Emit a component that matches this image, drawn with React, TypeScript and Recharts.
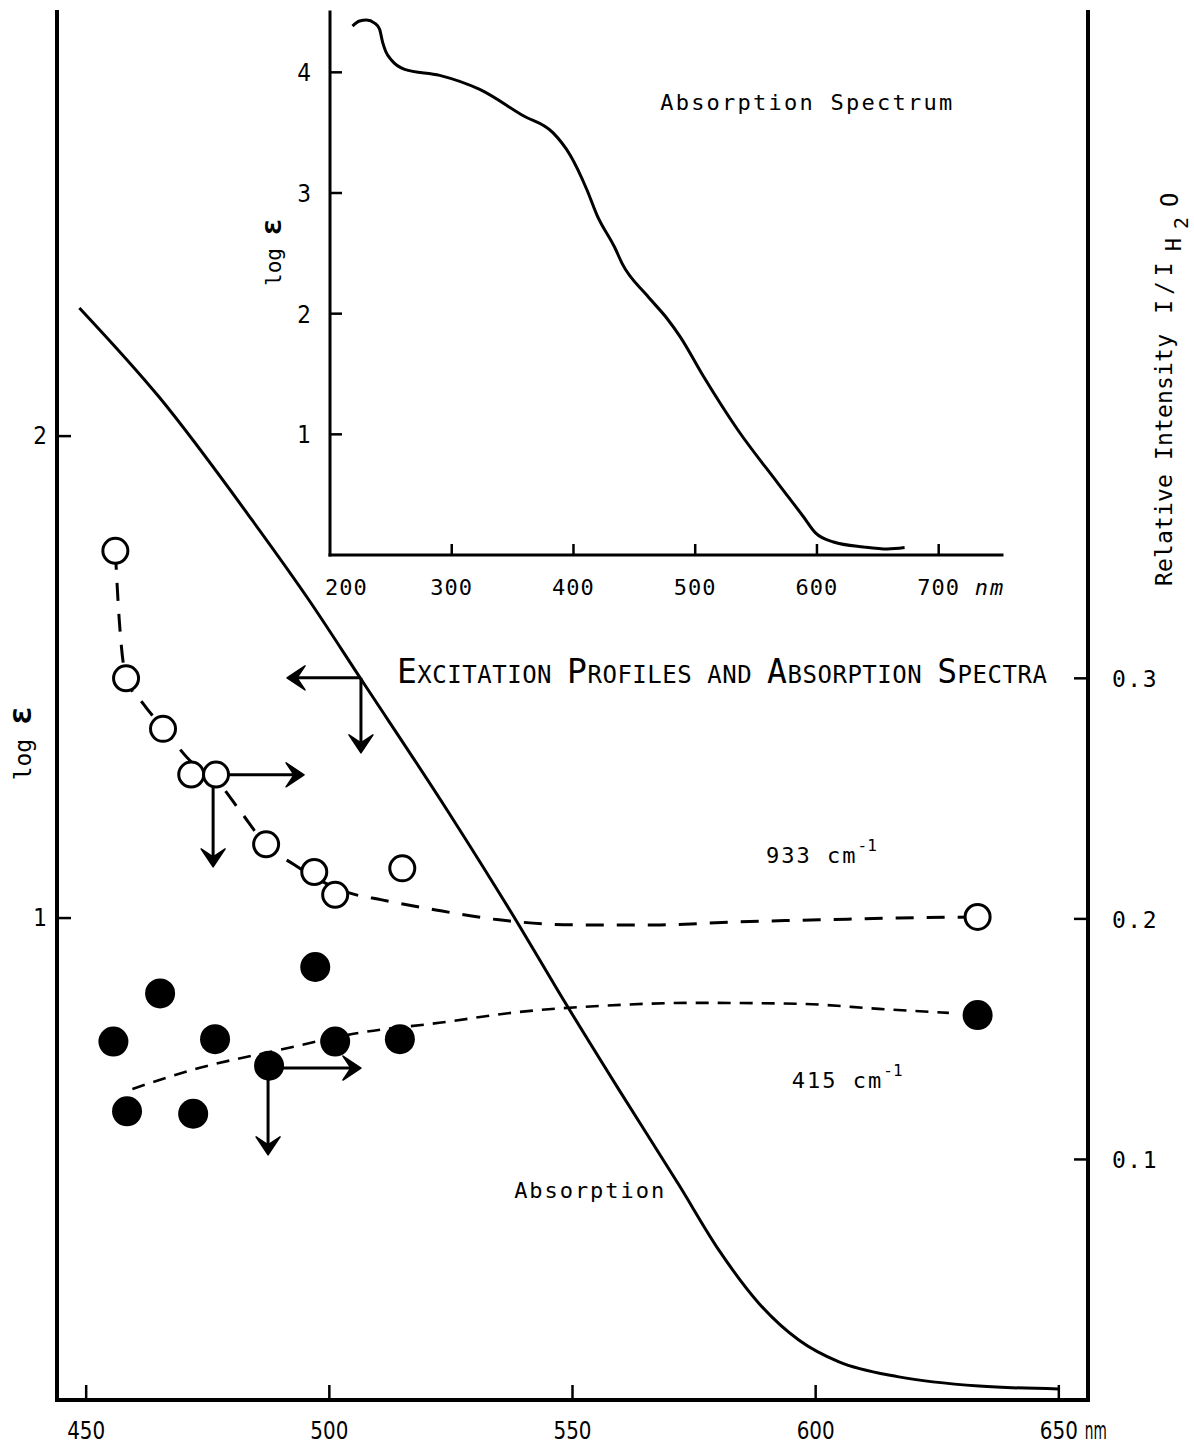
import React from 'react';
import { ComposedChart, Line, Scatter, XAxis, YAxis } from 'recharts';

const MONO = "'DejaVu Sans Mono', 'Liberation Mono', monospace";
const NARROW = "'Liberation Sans Narrow', 'DejaVu Sans Condensed', 'Liberation Sans', sans-serif";

// ---------- main chart ----------
const mainXTicks = [450, 500, 550, 600, 650];
const logETicks = [1, 2];
const intensityTicks = [0.1, 0.2, 0.3];

// absorption (log eps, left axis)
const absorption = [
  { x: 448.6, y: 2.266 }, { x: 465.0, y: 2.081 }, { x: 484.1, y: 1.826 }, { x: 495.8, y: 1.66 },
  { x: 506.5, y: 1.496 }, { x: 524.6, y: 1.218 }, { x: 539.0, y: 0.985 }, { x: 547.2, y: 0.846 },
  { x: 559.6, y: 0.643 }, { x: 571.9, y: 0.446 }, { x: 580.1, y: 0.311 }, { x: 588.3, y: 0.201 },
  { x: 596.6, y: 0.124 }, { x: 604.8, y: 0.079 }, { x: 617.1, y: 0.048 }, { x: 633.6, y: 0.029 },
  { x: 650.0, y: 0.023 },
];

// 933 cm-1 excitation profile (right axis)
const open933 = [
  { x: 456.0, y: 0.353 }, { x: 458.2, y: 0.3 }, { x: 465.8, y: 0.279 }, { x: 471.6, y: 0.26 },
  { x: 476.7, y: 0.26 }, { x: 487.0, y: 0.231 }, { x: 496.9, y: 0.2195 }, { x: 501.2, y: 0.21 },
  { x: 515.0, y: 0.221 }, { x: 633.3, y: 0.2008 },
];
const fit933 = [
  { x: 456.0, y: 0.3526 }, { x: 456.8, y: 0.3243 }, { x: 458.2, y: 0.3002 }, { x: 461.9, y: 0.289 },
  { x: 465.8, y: 0.2794 }, { x: 471.6, y: 0.2653 }, { x: 476.7, y: 0.2578 }, { x: 481.5, y: 0.2453 },
  { x: 487.0, y: 0.2308 }, { x: 492.8, y: 0.2225 }, { x: 497.9, y: 0.2162 }, { x: 504.1, y: 0.2108 },
  { x: 510.8, y: 0.2079 }, { x: 521.9, y: 0.2037 }, { x: 534.9, y: 0.1996 }, { x: 551.3, y: 0.1975 },
  { x: 567.8, y: 0.1975 }, { x: 584.2, y: 0.1988 }, { x: 600.7, y: 0.1996 }, { x: 617.1, y: 0.2004 },
  { x: 633.3, y: 0.2008 },
];

// 415 cm-1 excitation profile (right axis)
const filled415 = [
  { x: 455.6, y: 0.149 }, { x: 458.4, y: 0.12 }, { x: 465.2, y: 0.169 }, { x: 472.0, y: 0.119 },
  { x: 476.5, y: 0.15 }, { x: 487.6, y: 0.139 }, { x: 497.1, y: 0.18 }, { x: 501.2, y: 0.149 },
  { x: 514.5, y: 0.15 }, { x: 633.3, y: 0.16 },
];
const fit415 = [
  { x: 459.5, y: 0.1293 }, { x: 473.2, y: 0.138 }, { x: 489.7, y: 0.1455 }, { x: 506.1, y: 0.1526 },
  { x: 522.6, y: 0.1568 }, { x: 539.0, y: 0.1613 }, { x: 555.4, y: 0.1638 }, { x: 576.0, y: 0.1651 },
  { x: 596.6, y: 0.1647 }, { x: 613.0, y: 0.1626 }, { x: 627.4, y: 0.1609 },
];

// arrows (right axis coordinates)
const arrow1H = [{ x: 506.5, y: 0.3002 }, { x: 492.3, y: 0.3002 }];
const arrow1V = [{ x: 506.5, y: 0.3002 }, { x: 506.5, y: 0.271 }];
const arrow2H = [{ x: 476.7, y: 0.2599 }, { x: 493.8, y: 0.2599 }];
const arrow2V = [{ x: 476.1, y: 0.2599 }, { x: 476.1, y: 0.2236 }];
const arrow3H = [{ x: 487.6, y: 0.138 }, { x: 505.5, y: 0.138 }];
const arrow3V = [{ x: 487.4, y: 0.138 }, { x: 487.4, y: 0.104 }];
const headsLeft = [{ x: 491.3, y: 0.3002 }];
const headsRight = [{ x: 494.8, y: 0.2599 }, { x: 506.5, y: 0.138 }];
const headsDown = [{ x: 506.5, y: 0.269 }, { x: 476.1, y: 0.2216 }, { x: 487.4, y: 0.1019 }];

// ---------- inset chart ----------
const insetXTicks = [200, 300, 400, 500, 600, 700];
const insetYTicks = [1, 2, 3, 4];
const insetSpectrum = [
  { x: 218.5, y: 4.383 }, { x: 224.3, y: 4.425 }, { x: 230.0, y: 4.433 }, { x: 236.6, y: 4.408 },
  { x: 240.7, y: 4.358 }, { x: 243.2, y: 4.25 }, { x: 245.7, y: 4.175 }, { x: 250.6, y: 4.1 },
  { x: 261.3, y: 4.025 }, { x: 290.1, y: 3.975 }, { x: 323.0, y: 3.858 }, { x: 358.4, y: 3.642 },
  { x: 383.1, y: 3.5 }, { x: 397.1, y: 3.317 }, { x: 411.1, y: 3.025 }, { x: 419.3, y: 2.817 },
  { x: 434.2, y: 2.542 }, { x: 439.9, y: 2.417 }, { x: 460.5, y: 2.15 }, { x: 477.0, y: 1.958 },
  { x: 487.7, y: 1.808 }, { x: 506.6, y: 1.483 }, { x: 534.6, y: 1.042 }, { x: 567.5, y: 0.6 },
  { x: 588.9, y: 0.317 }, { x: 598.8, y: 0.183 }, { x: 613.6, y: 0.108 }, { x: 638.3, y: 0.067 },
  { x: 658.0, y: 0.05 }, { x: 672.0, y: 0.062 },
];

// ---------- helpers ----------
const headPath = 'M0 0 L-18 -12 L-10 0 L-18 12 Z';
const arrowHead = (angle: number) => (p: any) => (
  <path
    d={headPath}
    transform={`translate(${p.cx},${p.cy}) rotate(${angle})`}
    fill="#000"
    stroke="#000"
    strokeWidth={1.5}
    strokeLinejoin="round"
  />
);
const openCircle = (p: any) => <circle cx={p.cx} cy={p.cy} r={12.5} fill="#fff" stroke="#000" strokeWidth={3} />;
const filledCircle = (p: any) => <circle cx={p.cx} cy={p.cy} r={15} fill="#000" />;
const textAt = (render: (cx: number, cy: number) => React.ReactNode) => (p: any) => <g>{render(p.cx, p.cy)}</g>;

const BottomTick = (props: any) => {
  const { x, y, payload } = props;
  const v = payload.value;
  return (
    <g>
      <line x1={x} y1={y} x2={x} y2={y - 15} stroke="#000" strokeWidth={2.5} />
      <text x={x} y={y + 39} textAnchor="middle" fontFamily={NARROW} fontSize={24} textLength={38} lengthAdjust="spacingAndGlyphs" fill="#000">
        {String(v)}
      </text>
      {v === 650 && (
        <text x={x + 26} y={y + 39} fontFamily={NARROW} fontSize={24} textLength={22} lengthAdjust="spacingAndGlyphs" fill="#000">
          nm
        </text>
      )}
    </g>
  );
};
const LeftTick = (props: any) => {
  const { x, y, payload } = props;
  return (
    <g>
      <line x1={x} y1={y} x2={x + 14} y2={y} stroke="#000" strokeWidth={2.5} />
      <text x={x - 17} y={y + 8} textAnchor="middle" fontFamily={NARROW} fontSize={24} fill="#000">
        {String(payload.value)}
      </text>
    </g>
  );
};
const RightTick = (props: any) => {
  const { x, y, payload } = props;
  return (
    <g>
      <line x1={x} y1={y} x2={x - 14} y2={y} stroke="#000" strokeWidth={2.5} />
      <text x={x + 47} y={y + 9} textAnchor="middle" fontFamily={MONO} fontSize={23} letterSpacing={1.5} fill="#000">
        {String(payload.value)}
      </text>
    </g>
  );
};
const InsetBottomTick = (props: any) => {
  const { x, y, payload } = props;
  const v = payload.value;
  return (
    <g>
      {v !== 200 && <line x1={x} y1={y} x2={x} y2={y - 11} stroke="#000" strokeWidth={2.5} />}
      <text
        x={v === 200 ? x - 5 : x}
        y={y + 40}
        textAnchor={v === 200 ? 'start' : 'middle'}
        fontFamily={MONO}
        fontSize={22}
        letterSpacing={1}
        fill="#000"
      >
        {String(v)}
      </text>
      {v === 700 && (
        <text x={x + 36} y={y + 40} fontFamily={MONO} fontSize={22} fontStyle="italic" letterSpacing={2} fill="#000">
          nm
        </text>
      )}
    </g>
  );
};
const InsetLeftTick = (props: any) => {
  const { x, y, payload } = props;
  return (
    <g>
      <line x1={x} y1={y} x2={x + 12} y2={y} stroke="#000" strokeWidth={2.5} />
      <text x={x - 26} y={y + 9} textAnchor="middle" fontFamily={NARROW} fontSize={24} fill="#000">
        {String(payload.value)}
      </text>
    </g>
  );
};

const frame = { stroke: '#000', strokeWidth: 4, strokeLinecap: 'square' as const };
const insetFrame = { stroke: '#000', strokeWidth: 3, strokeLinecap: 'square' as const };
const MAIN_X: [number, number] = [444, 656];
const INSET_X: [number, number] = [200, 752];

const leftAxisLabel = () => (
  <text transform="translate(31,743) rotate(-90)" textAnchor="middle" fontFamily={MONO} fill="#000">
    <tspan fontSize={23}>log </tspan>
    <tspan fontSize={32} fontWeight="bold">ε</tspan>
  </text>
);
const rightAxisLabel = () => (
  <text transform="translate(1172,586) rotate(-90)" textAnchor="start" fontFamily={MONO} fontSize={23} fill="#000">
    <tspan textLength={252} lengthAdjust="spacing">Relative Intensity</tspan>
    <tspan dx={20} letterSpacing={5}>I/I</tspan>
    <tspan fontSize={22} dy={9} dx={6}>H</tspan>
    <tspan fontSize={20} dy={7} dx={9}>2</tspan>
    <tspan fontSize={24} dy={-10} dx={10}>O</tspan>
  </text>
);
const insetAxisLabel = () => (
  <text transform="translate(281,252) rotate(-90)" textAnchor="middle" fontFamily={MONO} fill="#000">
    <tspan fontSize={21}>log </tspan>
    <tspan fontSize={29} fontWeight="bold">ε</tspan>
  </text>
);

const titleAnchor = [{ x: 513.9, y: 0.2981 }];
const label933Anchor = [{ x: 589.8, y: 0.2233 }];
const label415Anchor = [{ x: 595.1, y: 0.1297 }];
const absLabelAnchor = [{ x: 538.0, y: 0.084 }];
const insetTitleAnchor = [{ x: 471.2, y: 3.69 }];

const MainChart = () => (
  <ComposedChart width={1194} height={1445} margin={{ top: 12, right: 0, bottom: 0, left: 0 }}>
    <XAxis
      type="number"
      dataKey="x"
      domain={MAIN_X}
      allowDataOverflow
      ticks={mainXTicks}
      height={45}
      tickSize={0}
      tickMargin={0}
      tickLine={false}
      axisLine={frame}
      tick={(p: any) => <BottomTick {...p} />}
    />
    <XAxis xAxisId="top" orientation="top" type="number" dataKey="x" domain={MAIN_X} allowDataOverflow height={0} tick={false} tickLine={false} axisLine={frame} />
    <YAxis
      yAxisId="left"
      type="number"
      dataKey="y"
      domain={[0, 2.88]}
      allowDataOverflow
      ticks={logETicks}
      width={57}
      tickSize={0}
      tickMargin={0}
      tickLine={false}
      axisLine={frame}
      tick={(p: any) => <LeftTick {...p} />}
      label={{ content: leftAxisLabel }}
    />
    <YAxis
      yAxisId="right"
      orientation="right"
      type="number"
      dataKey="y"
      domain={[0, 0.577]}
      allowDataOverflow
      ticks={intensityTicks}
      width={106}
      tickSize={0}
      tickMargin={0}
      tickLine={false}
      axisLine={frame}
      tick={(p: any) => <RightTick {...p} />}
      label={{ content: rightAxisLabel }}
    />

    <Line yAxisId="left" data={absorption} dataKey="y" type="monotone" stroke="#000" strokeWidth={3} dot={false} activeDot={false} isAnimationActive={false} />
    <Line yAxisId="right" data={fit933} dataKey="y" type="monotone" stroke="#000" strokeWidth={3} strokeDasharray="18 13" dot={false} activeDot={false} isAnimationActive={false} />
    <Line yAxisId="right" data={fit415} dataKey="y" type="monotone" stroke="#000" strokeWidth={2.6} strokeDasharray="13 9" dot={false} activeDot={false} isAnimationActive={false} />

    {[arrow1H, arrow1V, arrow2H, arrow2V, arrow3H, arrow3V].map((a, i) => (
      <Line key={i} yAxisId="right" data={a} dataKey="y" type="linear" stroke="#000" strokeWidth={3} dot={false} activeDot={false} isAnimationActive={false} />
    ))}

    <Scatter yAxisId="right" data={open933} dataKey="y" shape={openCircle} isAnimationActive={false} />
    <Scatter yAxisId="right" data={filled415} dataKey="y" shape={filledCircle} isAnimationActive={false} />
    <Scatter yAxisId="right" data={headsLeft} dataKey="y" shape={arrowHead(180)} isAnimationActive={false} />
    <Scatter yAxisId="right" data={headsRight} dataKey="y" shape={arrowHead(0)} isAnimationActive={false} />
    <Scatter yAxisId="right" data={headsDown} dataKey="y" shape={arrowHead(90)} isAnimationActive={false} />

    <Scatter
      yAxisId="right"
      data={titleAnchor}
      dataKey="y"
      isAnimationActive={false}
      shape={textAt((cx, cy) => (
        <text x={cx} y={cy} fontFamily={MONO} textLength={650} lengthAdjust="spacing" fill="#000">
          <tspan fontSize={33}>E</tspan>
          <tspan fontSize={24}>XCITATION </tspan>
          <tspan fontSize={33}>P</tspan>
          <tspan fontSize={24}>ROFILES AND </tspan>
          <tspan fontSize={33}>A</tspan>
          <tspan fontSize={24}>BSORPTION </tspan>
          <tspan fontSize={33}>S</tspan>
          <tspan fontSize={24}>PECTRA</tspan>
        </text>
      ))}
    />
    <Scatter
      yAxisId="right"
      data={label933Anchor}
      dataKey="y"
      isAnimationActive={false}
      shape={textAt((cx, cy) => (
        <text x={cx} y={cy} fontFamily={MONO} fontSize={22} letterSpacing={2} fill="#000">
          933 cm<tspan fontSize={16} dy={-12} letterSpacing={0}>-1</tspan>
        </text>
      ))}
    />
    <Scatter
      yAxisId="right"
      data={label415Anchor}
      dataKey="y"
      isAnimationActive={false}
      shape={textAt((cx, cy) => (
        <text x={cx} y={cy} fontFamily={MONO} fontSize={22} letterSpacing={2} fill="#000">
          415 cm<tspan fontSize={16} dy={-12} letterSpacing={0}>-1</tspan>
        </text>
      ))}
    />
    <Scatter
      yAxisId="right"
      data={absLabelAnchor}
      dataKey="y"
      isAnimationActive={false}
      shape={textAt((cx, cy) => (
        <text x={cx} y={cy} fontFamily={MONO} fontSize={22} textLength={150} lengthAdjust="spacing" fill="#000">
          Absorption
        </text>
      ))}
    />
  </ComposedChart>
);

const InsetChart = () => (
  <ComposedChart width={1194} height={620} margin={{ top: 12, right: 192, bottom: 17, left: 270 }}>
    <XAxis
      type="number"
      dataKey="x"
      domain={INSET_X}
      allowDataOverflow
      ticks={insetXTicks}
      height={48}
      tickSize={0}
      tickMargin={0}
      tickLine={false}
      axisLine={insetFrame}
      tick={(p: any) => <InsetBottomTick {...p} />}
    />
    <XAxis xAxisId="top" orientation="top" type="number" dataKey="x" domain={INSET_X} allowDataOverflow height={0} tick={false} tickLine={false} axisLine={insetFrame} />
    <YAxis
      type="number"
      dataKey="y"
      domain={[0, 4.5]}
      allowDataOverflow
      ticks={insetYTicks}
      width={60}
      tickSize={0}
      tickMargin={0}
      tickLine={false}
      axisLine={insetFrame}
      tick={(p: any) => <InsetLeftTick {...p} />}
      label={{ content: insetAxisLabel }}
    />
    <YAxis yAxisId="r" orientation="right" type="number" dataKey="y" domain={[0, 4.5]} width={0} tick={false} tickLine={false} axisLine={insetFrame} />
    <Line data={insetSpectrum} dataKey="y" type="monotone" stroke="#000" strokeWidth={3} dot={false} activeDot={false} isAnimationActive={false} />
    <Scatter
      data={insetTitleAnchor}
      dataKey="y"
      isAnimationActive={false}
      shape={textAt((cx, cy) => (
        <text x={cx} y={cy} fontFamily={MONO} fontSize={22} textLength={292} lengthAdjust="spacing" fill="#000">
          Absorption Spectrum
        </text>
      ))}
    />
  </ComposedChart>
);

export default function App() {
  return (
    <div style={{ position: 'absolute', left: 0, top: 0, width: 1194, height: 1445, background: '#fff' }}>
      <div style={{ position: 'absolute', left: 0, top: 0 }}>
        <MainChart />
      </div>
      <div style={{ position: 'absolute', left: 0, top: 0 }}>
        <InsetChart />
      </div>
    </div>
  );
}
